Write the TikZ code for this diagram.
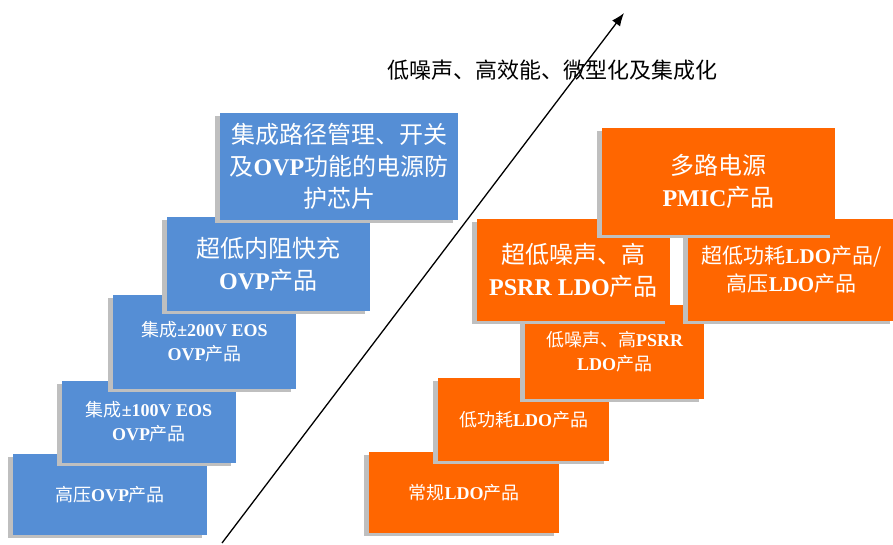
\documentclass[tikz,border=0pt]{standalone}
\usepackage{fontspec}
\setmainfont{Liberation Serif}
\newfontfamily\cjk{Noto Sans CJK SC}
\usepackage{tikz}
\usetikzlibrary{arrows.meta, shadows}

\definecolor{ovpblue}{HTML}{558ED5}
\definecolor{ldoorange}{HTML}{FF6600}
\definecolor{shadowgray}{HTML}{BFBFBF}

\newcommand{\lat}[1]{{\rmfamily\bfseries #1}}

\begin{document}
\begin{tikzpicture}[x=1pt, y=1pt,
    card/.style={rectangle, inner sep=0pt, text=white, align=center,
        drop shadow={shadow xshift=-5pt, shadow yshift=-3pt, fill=shadowgray, opacity=1}},
    bluecard/.style={card, fill=ovpblue},
    orangecard/.style={card, fill=ldoorange},
    small/.style={font=\cjk\fontsize{18}{24}\selectfont},
    large/.style={font=\cjk\fontsize{24}{32}\selectfont}]

    \useasboundingbox (0,0) rectangle (893,544);
    \clip (0,0) rectangle (893,544);

    % Nodes for the OVP steps, from the bottom up
    \node (hvovp) [bluecard, small, minimum width=194pt, minimum height=81pt] at (110,49.5) {高压\lat{OVP}产品};
    \node (eos100) [bluecard, small, minimum width=174pt, minimum height=82pt] at (149,122) {集成\lat{±100V EOS}\\\lat{OVP}产品};
    \node (eos200) [bluecard, small, minimum width=183pt, minimum height=94pt] at (204.5,202) {集成\lat{±200V EOS}\\\lat{OVP}产品};
    \node (fastcharge) [bluecard, large, minimum width=203pt, minimum height=94pt] at (268.5,280) {超低内阻快充\\\lat{OVP}产品};
    \node (pathmgmt) [bluecard, large, minimum width=238pt, minimum height=107pt] at (339,377.5) {集成路径管理、开关\\及\lat{OVP}功能的电源防\\护芯片};

    % Nodes for the LDO steps, from the bottom up
    \node (stdldo) [orangecard, small, minimum width=190pt, minimum height=81pt] at (464,51.5) {常规\lat{LDO}产品};
    \node (lpldo) [orangecard, small, minimum width=171pt, minimum height=83pt] at (523.5,124.5) {低功耗\lat{LDO}产品};
    \node (lnldo) [orangecard, small, minimum width=179pt, minimum height=94pt] at (614.5,192) {低噪声、高\lat{PSRR}\\\lat{LDO}产品};
    \node (ulnldo) [orangecard, large, minimum width=193pt, minimum height=102pt] at (573.5,274) {超低噪声、高\\\lat{PSRR LDO}产品};
    \node (ulpldo) [orangecard, font=\cjk\fontsize{21}{28}\selectfont, minimum width=207pt, minimum height=102pt] at (791.5,274) {超低功耗\lat{LDO}产品/\\高压\lat{LDO}产品};
    \node (pmic) [orangecard, large, minimum width=233pt, minimum height=107pt] at (718.5,362.5) {多路电源\\\lat{PMIC}产品};

    % Trend arrow and its label
    \coordinate (trendstart) at (222,1);
    \coordinate (trendend) at (624,531);
    \draw[-{Latex[length=13pt, width=10pt]}, line width=1.3pt] (trendstart) -- (trendend);
    \node (trend) [font=\cjk\fontsize{22}{26}\selectfont] at (552.5,474) {低噪声、高效能、微型化及集成化};

\end{tikzpicture}
\end{document}
